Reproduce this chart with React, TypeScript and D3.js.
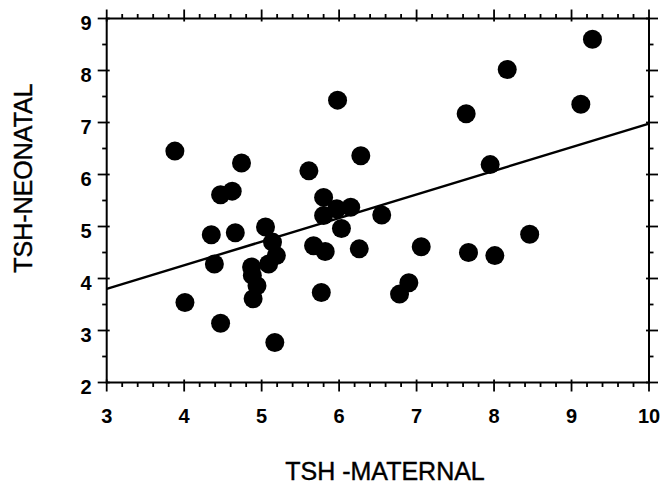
import React from 'react'
import * as d3 from 'd3'

// TSH maternal (x) vs TSH neonatal (y)
const maternal = [
  3.88, 4.01, 4.47, 4.62, 4.35, 4.66, 4.39, 4.47, 4.74, 5.05, 5.14, 5.19, 5.09, 4.87,
  4.88, 4.94, 4.89, 5.17, 5.61, 5.98, 5.8, 5.8, 5.97, 6.15, 6.03, 5.67, 5.82, 5.77,
  6.26, 6.28, 6.55, 7.06, 6.9, 6.78, 7.67, 8.01, 8.46, 7.64, 8.17, 9.27, 9.12, 7.95,
]
const neonatal = [
  6.45, 3.54, 5.61, 5.68, 4.84, 4.88, 4.28, 3.14, 6.22, 4.99, 4.7, 4.44, 4.28, 4.22,
  4.06, 3.86, 3.61, 2.77, 6.07, 7.43, 5.56, 5.21, 5.34, 5.37, 4.96, 4.63, 4.52, 3.73,
  4.57, 6.36, 5.22, 4.61, 3.92, 3.7, 4.5, 4.44, 4.85, 7.17, 8.02, 8.6, 7.35, 6.19,
]
// regression line end points
const fitX = [3, 10]
const fitY = [3.8, 6.98]

const xTicks = [3, 4, 5, 6, 7, 8, 9, 10]
const yTicks = [2, 3, 4, 5, 6, 7, 8, 9]

const width = 663
const height = 489
const margin = { left: 106.7, top: 18.5, right: 14, bottom: 106.5 }
const plotRight = width - margin.right
const plotBottom = height - margin.bottom

const xScale = d3.scaleLinear().domain([3, 10]).range([margin.left, plotRight])
const yScale = d3.scaleLinear().domain([2, 9]).range([plotBottom, margin.top])

const xMinor = d3.range(3, 10.001, 0.2)
const yMinor = d3.range(2, 9.001, 0.5)

const isMajor = (v: number) => Math.abs(v - Math.round(v)) < 1e-6

const fitLine = d3
  .line<number>()
  .x(i => xScale(fitX[i]))
  .y(i => yScale(fitY[i]))

const font = "'Liberation Sans', Arial, sans-serif"

export default function App() {
  return (
    <svg
      width={width}
      height={height}
      style={{ position: 'absolute', left: 0, top: 0, background: '#fff' }}
    >
      {/* frame */}
      <rect
        x={margin.left}
        y={margin.top}
        width={plotRight - margin.left}
        height={plotBottom - margin.top}
        fill="none"
        stroke="#000"
        strokeWidth={2}
      />

      {/* x ticks, bottom and top, pointing out */}
      {xMinor.map(v => {
        const len = isMajor(v) ? 9 : 4.5
        const x = xScale(v)
        return (
          <g key={'x' + v.toFixed(1)}>
            <line x1={x} x2={x} y1={plotBottom - (isMajor(v) ? 3 : 0)} y2={plotBottom + len} stroke="#000" strokeWidth={1.8} />
            <line x1={x} x2={x} y1={margin.top + (isMajor(v) ? 3 : 0)} y2={margin.top - len} stroke="#000" strokeWidth={1.8} />
          </g>
        )
      })}

      {/* y ticks, left and right, pointing out */}
      {yMinor.map(v => {
        const len = isMajor(v) ? 9 : 4.5
        const y = yScale(v)
        return (
          <g key={'y' + v.toFixed(1)}>
            <line x1={margin.left + (isMajor(v) ? 3 : 0)} x2={margin.left - len} y1={y} y2={y} stroke="#000" strokeWidth={1.8} />
            <line x1={plotRight - (isMajor(v) ? 3 : 0)} x2={plotRight + len} y1={y} y2={y} stroke="#000" strokeWidth={1.8} />
          </g>
        )
      })}

      {xTicks.map(t => (
        <text
          key={'xl' + t}
          x={xScale(t)}
          y={plotBottom + 40}
          textAnchor="middle"
          fontFamily={font}
          fontWeight="bold"
          fontSize={20}
        >
          {t}
        </text>
      ))}

      {yTicks.map(t => (
        <text
          key={'yl' + t}
          x={margin.left - 15}
          y={yScale(t) + 11}
          textAnchor="end"
          fontFamily={font}
          fontWeight="bold"
          fontSize={20}
        >
          {t}
        </text>
      ))}

      <path d={fitLine([0, 1]) ?? ''} fill="none" stroke="#000" strokeWidth={2.4} />

      {maternal.map((m, i) => (
        <circle key={i} cx={xScale(m)} cy={yScale(neonatal[i])} r={9.5} fill="#000" />
      ))}

      <text
        x={385}
        y={480}
        textAnchor="middle"
        fontFamily={font}
        fontSize={25}
        stroke="#000"
        strokeWidth={0.4}
      >
        TSH -MATERNAL
      </text>
      <text
        transform={`translate(32, 178) rotate(-90)`}
        textAnchor="middle"
        fontFamily={font}
        fontSize={25}
        stroke="#000"
        strokeWidth={0.4}
      >
        TSH-NEONATAL
      </text>
    </svg>
  )
}
